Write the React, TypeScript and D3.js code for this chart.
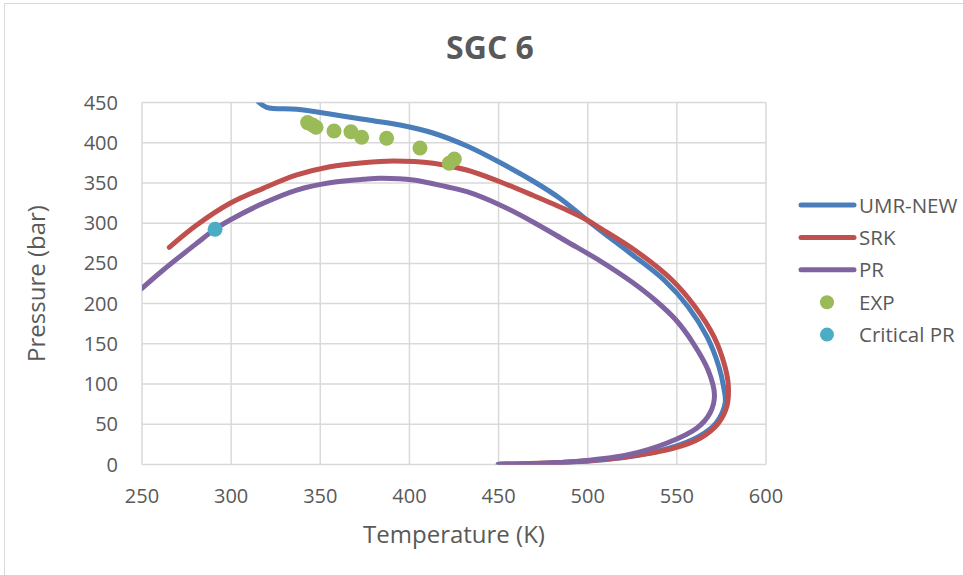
import React from 'react';
import * as d3 from 'd3';

// curves as [temperature K, pressure bar]
const umrNew: [number, number][] = [
  [315.2, 451], [319.9, 444], [336.8, 441.6], [355.4, 435.7], [374, 429.1], [394.7, 422],
  [413.2, 412.1], [432.3, 395.9], [450.8, 375.4], [469.3, 352.4], [484.5, 330.7], [499.6, 303.9],
  [509.7, 286.5], [523.7, 262.9], [542.8, 229.4], [556.3, 196.2], [566.9, 158.9], [573.6, 121.6],
  [576.2, 96.7], [577.1, 76.5], [572, 51.6], [561.9, 34.2], [546.2, 20.5], [522, 9.3],
  [491.7, 3.1], [449.7, 0.2],
];
const srk: [number, number][] = [
  [265.3, 270], [280.7, 297.7], [299.4, 324.7], [318, 343.3], [336.8, 359.9], [355.4, 370.2],
  [374.1, 375.2], [391, 377.3], [413.4, 374.4], [432.1, 366.1], [450.8, 351.5], [469.5, 334.4],
  [488.2, 316.4], [499.6, 304], [506.9, 294], [527.1, 265.4], [546.7, 230.6], [560.2, 196.2],
  [570.8, 158.9], [577, 121.6], [578.9, 96.7], [578, 71.9], [573.2, 51.2], [563, 32.6],
  [548, 20.1], [521.9, 9.7], [491.9, 3.5], [450.8, 0.25],
];
const pr: [number, number][] = [
  [250, 219], [261.9, 241.8], [280.7, 275], [290.9, 292.4], [299.4, 303.9], [318, 324.7],
  [336.8, 341.2], [355.4, 350.3], [374.1, 354.5], [383.5, 355.8], [402.2, 353.7], [420.9, 345.3],
  [432.3, 339.1], [450.8, 322.6], [469.3, 301.5], [487.8, 277.8], [508, 251.7], [524.8, 226.9],
  [537.7, 204.5], [549.5, 179.6], [559.1, 151], [567.5, 117.5], [571.1, 86.4], [568.6, 64],
  [561.3, 45.4], [544.5, 26.7], [522, 11.8], [491.7, 3.5], [450.8, 0.25],
];
const exp: [number, number][] = [
  [342.9, 425], [345.7, 422], [347.6, 419.2], [357.7, 414.6], [367.2, 413.7], [373.2, 406.8],
  [387.2, 405.5], [405.9, 393.5], [422.3, 374.4], [425.2, 379.8],
];
const criticalPr: [number, number][] = [[291, 292.5]];

const xTicks = [250, 300, 350, 400, 450, 500, 550, 600];
const yTicks = [0, 50, 100, 150, 200, 250, 300, 350, 400, 450];

const lines = [
  { name: 'UMR-NEW', data: umrNew, color: '#4a7ebb' },
  { name: 'SRK', data: srk, color: '#c0504d' },
  { name: 'PR', data: pr, color: '#8064a2' },
];
const dots = [
  { name: 'EXP', data: exp, color: '#9bbb59' },
  { name: 'Critical PR', data: criticalPr, color: '#4bacc6' },
];

const W = 963;
const H = 575;
const font = '"Open Sans", sans-serif';
const textColor = '#595959';

export default function App() {
  const x = d3.scaleLinear().domain([250, 600]).range([142, 766]);
  const y = d3.scaleLinear().domain([0, 450]).range([464.5, 102.5]);
  const line = d3
    .line<[number, number]>()
    .x((d) => x(d[0]))
    .y((d) => y(d[1]))
    .curve(d3.curveCatmullRom.alpha(0.5));

  return (
    <svg width={W} height={H} style={{ position: 'absolute', left: 0, top: 0, background: '#fff' }} fontFamily={font}>
      <rect x={4.5} y={3.5} width={W + 10} height={H + 10} fill="#fff" stroke="#d9d9d9" />
      <defs>
        <clipPath id="plot">
          <rect x={x(250)} y={y(450)} width={x(600) - x(250)} height={y(0) - y(450)} />
        </clipPath>
      </defs>
      <text x={490} y={59} textAnchor="middle" fontSize={32} fontWeight="bold" fill={textColor}>
        SGC 6
      </text>
      <g stroke="#d9d9d9" strokeWidth={1.5}>
        {yTicks.map((t) => (
          <line key={'y' + t} x1={x(250)} x2={x(600)} y1={y(t)} y2={y(t)} />
        ))}
        {xTicks.map((t) => (
          <line key={'x' + t} x1={x(t)} x2={x(t)} y1={y(450)} y2={y(0)} />
        ))}
      </g>
      <g fontSize={20} fill={textColor}>
        {yTicks.map((t) => (
          <text key={'yl' + t} x={118} y={y(t) + 7} textAnchor="end">
            {t}
          </text>
        ))}
        {xTicks.map((t) => (
          <text key={'xl' + t} x={x(t)} y={503} textAnchor="middle">
            {t}
          </text>
        ))}
      </g>
      <text x={454} y={543} textAnchor="middle" fontSize={24} fill={textColor}>
        Temperature (K)
      </text>
      <text transform={`translate(45, ${(y(0) + y(450)) / 2}) rotate(-90)`} textAnchor="middle" fontSize={24} fill={textColor}>
        Pressure (bar)
      </text>
      <g clipPath="url(#plot)">
        {lines.map((s) => (
          <path key={s.name} d={line(s.data) ?? ''} fill="none" stroke={s.color} strokeWidth={5} strokeLinecap="round" strokeLinejoin="round" />
        ))}
      </g>
      {dots.map((s) => (
        <g key={s.name} fill={s.color}>
          {s.data.map((d, i) => (
            <circle key={i} cx={x(d[0])} cy={y(d[1])} r={7.5} />
          ))}
        </g>
      ))}
      <g fontSize={20.5} fill={textColor}>
        {lines.map((s, i) => (
          <g key={s.name} transform={`translate(0, ${205 + i * 32.4})`}>
            <line x1={801} x2={854} stroke={s.color} strokeWidth={5} strokeLinecap="round" />
            <text x={859} y={7.5}>{s.name}</text>
          </g>
        ))}
        {dots.map((s, i) => (
          <g key={s.name} transform={`translate(0, ${302.2 + i * 32.4})`}>
            <circle cx={827} cy={0} r={7} fill={s.color} />
            <text x={859} y={7.5}>{s.name}</text>
          </g>
        ))}
      </g>
    </svg>
  );
}
